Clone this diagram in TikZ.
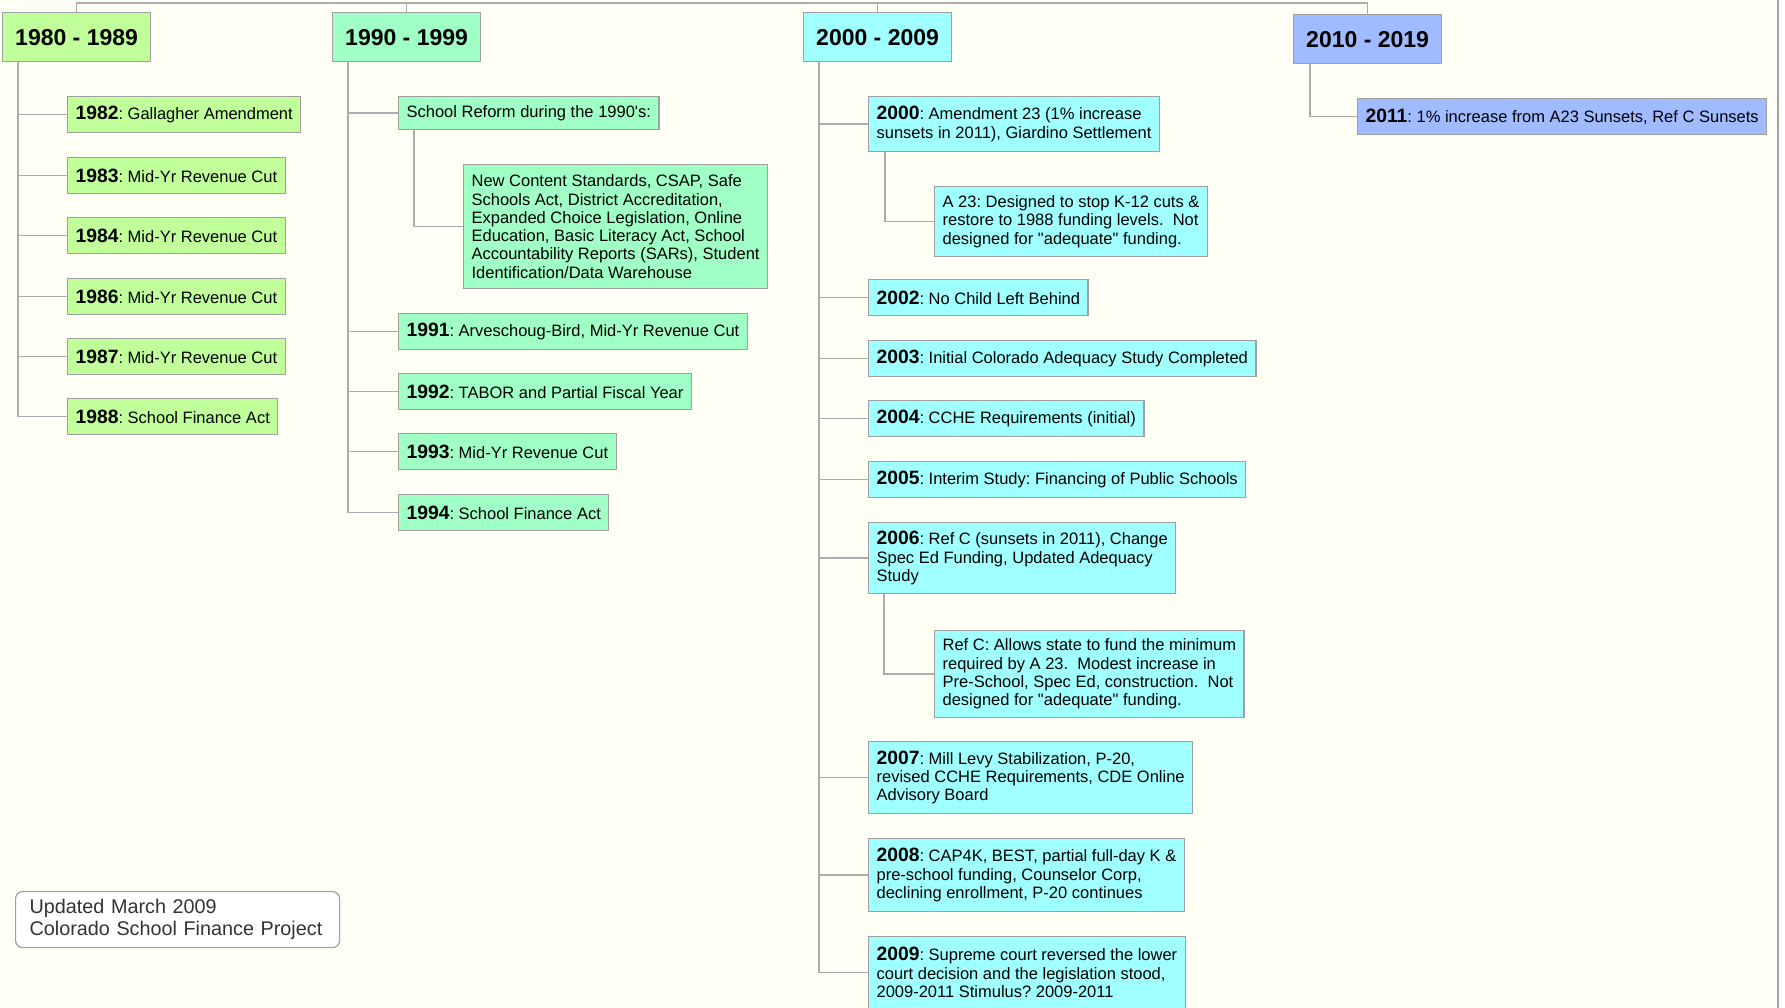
\documentclass[tikz,border=0pt]{standalone}
\usepackage{fontspec}
\setmainfont{Liberation Sans}
\usetikzlibrary{positioning}
\frenchspacing
\definecolor{paper}{HTML}{FFFFF6}
\definecolor{c80}{HTML}{C0FF9A}
\definecolor{c90}{HTML}{A0FFC4}
\definecolor{c00}{HTML}{A0FFFF}
\definecolor{c10}{HTML}{A0BBFF}
\definecolor{wire}{HTML}{ACACAC}
\definecolor{rim}{HTML}{A0A0A0}
\newcommand{\yr}[1]{{\fontsize{19.3}{18.3}\selectfont\bfseries #1}}
\tikzstyle{decade} = [rectangle, draw = rim, line width = 1.2,
  minimum width = 148, minimum height = 49, anchor = north west,
  font = \fontsize{23}{26}\selectfont\bfseries, text centered]
\tikzstyle{item} = [
  rectangle, draw = rim, line width = 1.2,
  anchor = north west, minimum height = 36,
  inner xsep = 8, inner ysep = 3, align = left,
  font = \fontsize{16.5}{18.3}\selectfont
]
\tikzstyle{link} = [draw = wire, line width = 1.4]
\tikzstyle{stamp} = [rectangle, rounded corners = 7, draw = rim, fill = white,
  line width = 1.2, anchor = north west, text width = 296, minimum height = 56,
  inner xsep = 14, align = left, text = black!80,
  font = \fontsize{19.8}{22}\selectfont]

\begin{document}
\begin{tikzpicture}[x = 1pt, y = -1pt]
      \useasboundingbox (0, 0) rectangle (1785, 1008);
      \fill [white] (0, 0) rectangle (1785, 1008);
      \fill [paper] (0, 0) rectangle (1778, 1008);
      \draw [draw = rim, line width = 1.5] (1778, 0) -- (1778, 1008);
      \coordinate (top) at (0, 3);

      % decades
      \node [decade, fill = c80] (h80) at (2, 12) {1980 - 1989};
      \node [decade, fill = c90] (h90) at (332, 12) {1990 - 1999};
      \node [decade, fill = c00] (h00) at (803, 12) {2000 - 2009};
      \node [decade, fill = c10] (h10) at (1293, 14) {2010 - 2019};

      % 1980 - 1989
      \node [item, fill = c80] (y1982) at (67, 96) {\yr{1982}: Gallagher Amendment};
      \node [item, fill = c80] (y1983) at (67, 157) {\yr{1983}: Mid-Yr Revenue Cut};
      \node [item, fill = c80] (y1984) at (67, 217) {\yr{1984}: Mid-Yr Revenue Cut};
      \node [item, fill = c80] (y1986) at (67, 278) {\yr{1986}: Mid-Yr Revenue Cut};
      \node [item, fill = c80] (y1987) at (67, 338) {\yr{1987}: Mid-Yr Revenue Cut};
      \node [item, fill = c80] (y1988) at (67, 398) {\yr{1988}: School Finance Act};

      % 1990 - 1999
      \node [item, fill = c90, minimum height = 33] (reform) at (398, 96)
        {School Reform during the 1990\textquotesingle s:};
      \node [item, fill = c90, minimum height = 124] (reform-note) at (463, 164)
        {New Content Standards, CSAP, Safe\\
         Schools Act, District Accreditation,\\
         Expanded Choice Legislation, Online\\
         Education, Basic Literacy Act, School\\
         Accountability Reports (SARs), Student\\
         Identification/Data Warehouse};
      \node [item, fill = c90] (y1991) at (398, 313) {\yr{1991}: Arveschoug-Bird, Mid-Yr Revenue Cut};
      \node [item, fill = c90] (y1992) at (398, 373) {\yr{1992}: TABOR and Partial Fiscal Year};
      \node [item, fill = c90] (y1993) at (398, 433) {\yr{1993}: Mid-Yr Revenue Cut};
      \node [item, fill = c90] (y1994) at (398, 494) {\yr{1994}: School Finance Act};

      % 2000 - 2009
      \node [item, fill = c00, minimum height = 55] (y2000) at (868, 96)
        {\yr{2000}: Amendment 23 (1\% increase\\
         sunsets in 2011), Giardino Settlement};
      \node [item, fill = c00, minimum height = 70] (a23) at (934, 186)
        {A 23: Designed to stop K-12 cuts \&\\
         restore to 1988 funding levels.\ \ Not\\
         designed for \textquotedbl adequate\textquotedbl\ funding.};
      \node [item, fill = c00] (y2002) at (868, 279) {\yr{2002}: No Child Left Behind};
      \node [item, fill = c00] (y2003) at (868, 340) {\yr{2003}: Initial Colorado Adequacy Study Completed};
      \node [item, fill = c00] (y2004) at (868, 400) {\yr{2004}: CCHE Requirements (initial)};
      \node [item, fill = c00] (y2005) at (868, 461) {\yr{2005}: Interim Study: Financing of Public Schools};
      \node [item, fill = c00, minimum height = 71] (y2006) at (868, 522)
        {\yr{2006}: Ref C (sunsets in 2011), Change\\
         Spec Ed Funding, Updated Adequacy\\
         Study};
      \node [item, fill = c00, minimum height = 87] (refc) at (934, 630)
        {Ref C: Allows state to fund the minimum\\
         required by A 23.\ \ Modest increase in\\
         Pre-School, Spec Ed, construction.\ \ Not\\
         designed for \textquotedbl adequate\textquotedbl\ funding.};
      \node [item, fill = c00, minimum height = 72] (y2007) at (868, 741)
        {\yr{2007}: Mill Levy Stabilization, P-20,\\
         revised CCHE Requirements, CDE Online\\
         Advisory Board};
      \node [item, fill = c00, minimum height = 73] (y2008) at (868, 838)
        {\yr{2008}: CAP4K, BEST, partial full-day K \&\\
         pre-school funding, Counselor Corp,\\
         declining enrollment, P-20 continues};
      \node [item, fill = c00, minimum height = 72] (y2009) at (868, 936)
        {\yr{2009}: Supreme court reversed the lower\\
         court decision and the legislation stood,\\
         2009-2011 Stimulus? 2009-2011};

      % 2010 - 2019
      \node [item, fill = c10] (y2011) at (1357, 98)
        {\yr{2011}: 1\% increase from A23 Sunsets, Ref C Sunsets};

      % footer
      \node [stamp] (stamp) at (15, 891)
        {Updated March 2009\\Colorado School Finance Project};

      % timeline
      \draw [link] (h80.north) -- (h80.north |- top) -| (h10.north);
      \draw [link] (h90.north) -- (h90.north |- top);
      \draw [link] (h00.north) -- (h00.north |- top);

      \draw [link] ([xshift = 16]h80.south west) |- (y1982.west);
      \draw [link] ([xshift = 16]h80.south west) |- (y1983.west);
      \draw [link] ([xshift = 16]h80.south west) |- (y1984.west);
      \draw [link] ([xshift = 16]h80.south west) |- (y1986.west);
      \draw [link] ([xshift = 16]h80.south west) |- (y1987.west);
      \draw [link] ([xshift = 16]h80.south west) |- (y1988.west);

      \draw [link] ([xshift = 16]h90.south west) |- (reform.west);
      \draw [link] ([xshift = 16]reform.south west) |- (reform-note.west);
      \draw [link] ([xshift = 16]h90.south west) |- (y1991.west);
      \draw [link] ([xshift = 16]h90.south west) |- (y1992.west);
      \draw [link] ([xshift = 16]h90.south west) |- (y1993.west);
      \draw [link] ([xshift = 16]h90.south west) |- (y1994.west);

      \draw [link] ([xshift = 16]h00.south west) |- (y2000.west);
      \draw [link] ([xshift = 17]y2000.south west) |- (a23.west);
      \draw [link] ([xshift = 16]h00.south west) |- (y2002.west);
      \draw [link] ([xshift = 16]h00.south west) |- (y2003.west);
      \draw [link] ([xshift = 16]h00.south west) |- (y2004.west);
      \draw [link] ([xshift = 16]h00.south west) |- (y2005.west);
      \draw [link] ([xshift = 16]h00.south west) |- (y2006.west);
      \draw [link] ([xshift = 16]y2006.south west) |- (refc.west);
      \draw [link] ([xshift = 16]h00.south west) |- (y2007.west);
      \draw [link] ([xshift = 16]h00.south west) |- (y2008.west);
      \draw [link] ([xshift = 16]h00.south west) |- (y2009.west);

      \draw [link] ([xshift = 17]h10.south west) |- (y2011.west);
    \end{tikzpicture}
\end{document}
